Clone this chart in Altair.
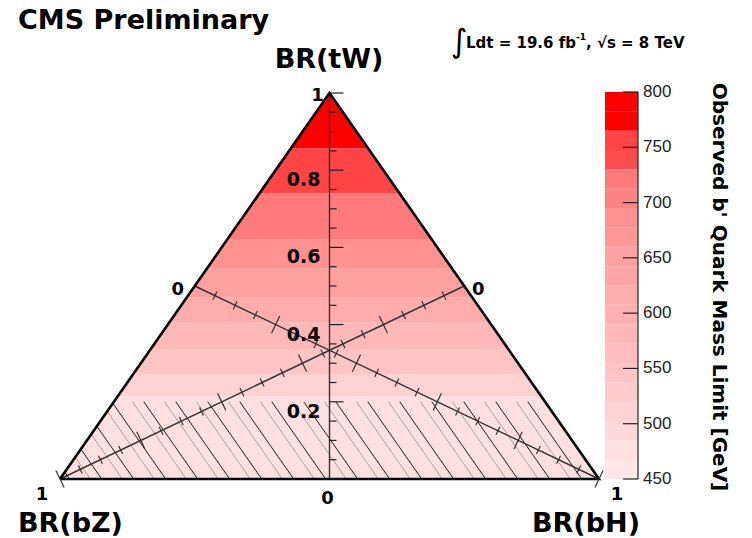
import math
import altair as alt
import pandas as pd

# ---------------- chart values ----------------
# contour levels of the observed b' mass limit (GeV) and their colours
levels = [450, 467.5, 485, 502.5, 520, 537.5, 555, 572.5, 590, 607.5,
          625, 642.5, 660, 677.5, 695, 712.5, 730, 747.5, 765, 782.5, 800]
palette = ["#ffe7e7", "#ffe0e0", "#ffd8d8", "#ffd2d2", "#ffcaca", "#ffc5c5",
           "#ffbdbd", "#ffb8b8", "#ffb1b1", "#ffacac", "#ffa5a5", "#ffa0a0",
           "#ff9797", "#ff9191", "#ff8383", "#ff7a7a", "#ff4c4c", "#ff4545",
           "#ff0000", "#ff0000"]

# observed-limit bands inside the triangle: BR(tW) edges and limit (GeV)
band_tw_low = [0.0, 0.215, 0.27, 0.335, 0.405, 0.47, 0.545, 0.62, 0.74, 0.857]
band_tw_high = [0.215, 0.27, 0.335, 0.405, 0.47, 0.545, 0.62, 0.74, 0.857, 1.0]
band_limit = [470, 510, 545, 580, 615, 650, 685, 720, 755, 790]

# hatched region: BR(tW) below this value
hatch_tw_max = 0.2

# axis ticks
tw_ticks = [0.0, 0.05, 0.1, 0.15, 0.2, 0.25, 0.3, 0.35, 0.4, 0.45, 0.5,
            0.55, 0.6, 0.65, 0.7, 0.75, 0.8, 0.85, 0.9, 0.95, 1.0]
tw_major = [0.0, 0.2, 0.4, 0.6, 0.8, 1.0]
tw_label_vals = [0.2, 0.4, 0.6, 0.8]
tw_label_text = ["0.2", "0.4", "0.6", "0.8"]
diag_ticks = [0.05, 0.1, 0.15, 0.2, 0.25, 0.3, 0.35, 0.4, 0.45, 0.5,
              0.55, 0.6, 0.65, 0.7, 0.75, 0.8, 0.85, 0.9, 0.95, 1.0]
diag_major = [0.2, 0.4, 0.6, 0.8, 1.0]
cb_ticks = [450, 500, 550, 600, 650, 700, 750, 800]

# ---------------- layout ----------------
W, H = 752, 538
X0, X1 = 60.0, 599.0      # pixel x of the two base corners
Y0, Y1 = 479.0, 93.0      # pixel y of base and apex
KX, KY = X1 - X0, Y0 - Y1
CB_T, CB_B = 92.0, 479.0  # colour bar top/bottom pixels
CB_L, CB_R = 605, 638
KM = (CB_B - CB_T) / (800 - 450)

xs = alt.Scale(domain=[-X0 / KX, (W - X0) / KX], range=[0, W], nice=False, zero=False)
ys = alt.Scale(domain=[(Y0 - H) / KY, Y0 / KY], range=[H, 0], nice=False, zero=False)
ms = alt.Scale(domain=[450 - (H - CB_B) / KM, 450 + CB_B / KM], range=[H, 0], nice=False, zero=False)
cs = alt.Scale(type="threshold", domain=levels[1:-1], range=palette)

BOLD = "DejaVu Sans"
REG = "Liberation Sans"


def X(f):
    return alt.X(f, type="quantitative", scale=xs, axis=None)


def Y(f):
    return alt.Y(f, type="quantitative", scale=ys, axis=None)


layers = []

# --- filled limit bands ---
band_rows = []
for i, (lo, hi, lim) in enumerate(zip(band_tw_low, band_tw_high, band_limit)):
    for t in (lo, hi):
        band_rows.append({"band": i, "t": t, "xl": t / 2, "xr": 1 - t / 2, "limit": lim})
layers.append(
    alt.Chart(pd.DataFrame(band_rows)).mark_area(orient="horizontal", opacity=1).encode(
        y=Y("t"), x=X("xl"), x2="xr",
        color=alt.Color("limit:Q", scale=cs, legend=None),
        detail="band:N",
    )
)

# --- hatching (lines parallel to the right edge) ---
step = 32.0 / KX
def hatch_rows(start):
    rows = []
    c = start
    while c <= 1.0:
        if c > 0:
            tt = min(hatch_tw_max, c)
            rows.append({"x": c, "t": 0.0, "x2": c - tt / 2, "t2": tt})
        c += step
    return rows

for start, col, sw in [(0.018 - 0.021, "#9a9a9a", 0.9), (0.018, "#1a1a1a", 1.0)]:
    layers.append(
        alt.Chart(pd.DataFrame(hatch_rows(start))).mark_rule(color=col, strokeWidth=sw).encode(
            x=X("x"), y=Y("t"), x2="x2", y2="t2"
        )
    )

# --- axis lines ---
axis_lines = pd.DataFrame({
    "x": [0.5, 0.25, 0.75], "t": [0.0, 0.5, 0.5],
    "x2": [0.5, 1.0, 0.0], "t2": [1.0, 0.0, 0.0],
})
layers.append(
    alt.Chart(axis_lines).mark_rule(color="#333333", strokeWidth=1.4).encode(
        x=X("x"), y=Y("t"), x2="x2", y2="t2"
    )
)

# --- triangle outline ---
tri = pd.DataFrame({"o": [0, 1, 2, 3], "x": [0.0, 1.0, 0.5, 0.0], "t": [0.0, 0.0, 1.0, 0.0]})
layers.append(
    alt.Chart(tri).mark_line(color="black", strokeWidth=2.6, strokeJoin="miter").encode(
        x=X("x"), y=Y("t"), order="o:Q"
    )
)

# --- BR(tW) axis ticks (to the right of the line) ---
for vals, ln in [([v for v in tw_ticks if v not in tw_major], 7), (tw_major, 14)]:
    layers.append(
        alt.Chart(pd.DataFrame({"t": vals, "x": [0.5] * len(vals)})).mark_point(
            shape="stroke", size=ln * ln, xOffset=ln / 2, color="#222222",
            strokeWidth=1.2, opacity=1,
        ).encode(x=X("x"), y=Y("t"))
    )

# --- diagonal axis ticks ---
ang = math.degrees(math.atan2(0.5 * KY, 0.75 * KX))
for axis_name, angle in [("bH", ang + 90), ("bZ", 90 - ang)]:
    for vals, ln in [([v for v in diag_ticks if v not in diag_major], 9), (diag_major, 19)]:
        if axis_name == "bH":
            xv = [0.25 + 0.75 * f for f in vals]
        else:
            xv = [0.75 - 0.75 * f for f in vals]
        tv = [0.5 - 0.5 * f for f in vals]
        layers.append(
            alt.Chart(pd.DataFrame({"x": xv, "t": tv})).mark_point(
                shape="stroke", size=ln * ln, angle=angle, color="#333333",
                strokeWidth=1.2, opacity=1,
            ).encode(x=X("x"), y=Y("t"))
        )

# --- BR(tW) tick labels ---
layers.append(
    alt.Chart(pd.DataFrame({"t": tw_label_vals, "x": [0.5] * 4, "lab": tw_label_text})).mark_text(
        font=BOLD, fontWeight="bold", fontSize=19, align="right", baseline="middle",
        dx=-9, dy=10, color="black",
    ).encode(x=X("x"), y=Y("t"), text="lab:N")
)

# --- end labels of the three axes ---
ends = [
    ("1", 0.5, 1.0, -12, 3),
    ("0", 0.5, 0.0, -2, 20),
    ("0", 0.25, 0.5, -17, 4),
    ("0", 0.75, 0.5, 14, 4),
    ("1", 0.0, 0.0, -18, 16),
    ("1", 1.0, 0.0, 18, 16),
]
for lab, xv, tv, dx, dy in ends:
    layers.append(
        alt.Chart(pd.DataFrame({"x": [xv], "t": [tv]})).mark_text(
            text=lab, font=BOLD, fontWeight="bold", fontSize=18, align="center",
            baseline="middle", dx=dx, dy=dy, color="black",
        ).encode(x=X("x"), y=Y("t"))
    )

# --- colour bar ---
cb = pd.DataFrame({"lo": levels[:-1], "hi": levels[1:]})
layers.append(
    alt.Chart(cb).mark_rect(opacity=1).encode(
        x=alt.value(CB_L), x2=alt.value(CB_R),
        y=alt.Y("lo:Q", scale=ms, axis=None), y2="hi:Q",
        color=alt.Color("lo:Q", scale=cs, legend=None),
    )
)
layers.append(
    alt.Chart(pd.DataFrame({"a": [450], "b": [800]})).mark_rule(color="#222222", strokeWidth=1.2).encode(
        x=alt.value(CB_R), y=alt.Y("a:Q", scale=ms, axis=None), y2="b:Q"
    )
)
cbt = pd.DataFrame({"m": cb_ticks, "lab": [str(v) for v in cb_ticks]})
layers.append(
    alt.Chart(cbt).mark_rule(color="#222222", strokeWidth=1.2).encode(
        x=alt.value(CB_R - 15), x2=alt.value(CB_R), y=alt.Y("m:Q", scale=ms, axis=None)
    )
)
layers.append(
    alt.Chart(cbt).mark_text(font=REG, fontSize=17, align="left", baseline="middle", color="#222222").encode(
        x=alt.value(CB_R + 5), y=alt.Y("m:Q", scale=ms, axis=None), text="lab:N"
    )
)

# --- free texts ---
one = pd.DataFrame({"k": [0]})


def txt(text, x, y, size, font=BOLD, weight="bold", align="center", baseline="middle", angle=None):
    kw = dict(text=text, font=font, fontSize=size, fontWeight=weight, align=align,
              baseline=baseline, color="black")
    if angle is not None:
        kw["angle"] = angle
    return alt.Chart(one).mark_text(**kw).encode(x=alt.value(x), y=alt.value(y))


layers += [
    txt("CMS Preliminary", 18, 29, 27, align="left", baseline="alphabetic"),
    txt("BR(tW)", 329, 60, 27),
    txt("BR(bZ)", 18, 524, 27, align="left"),
    txt("BR(bH)", 532, 524, 27, align="left"),
    txt("∫", 459, 42, 32, weight="normal"),
    txt("Ldt = 19.6 fb", 466, 48, 15, align="left", baseline="alphabetic"),
    txt("-1", 576, 40, 9, align="left", baseline="alphabetic"),
    txt(", √s = 8 TeV", 586, 48, 15, align="left", baseline="alphabetic"),
    txt("Observed b' Quark Mass Limit [GeV]", 719, 287, 20, angle=90),
]

chart = (
    alt.layer(*layers)
    .resolve_scale(y="independent")
    .properties(width=W, height=H, autosize=alt.AutoSizeParams(type="none"), padding=0)
    .configure_view(stroke=None)
)

chart.save("out.html", embed_options={"renderer": "svg", "actions": False})
